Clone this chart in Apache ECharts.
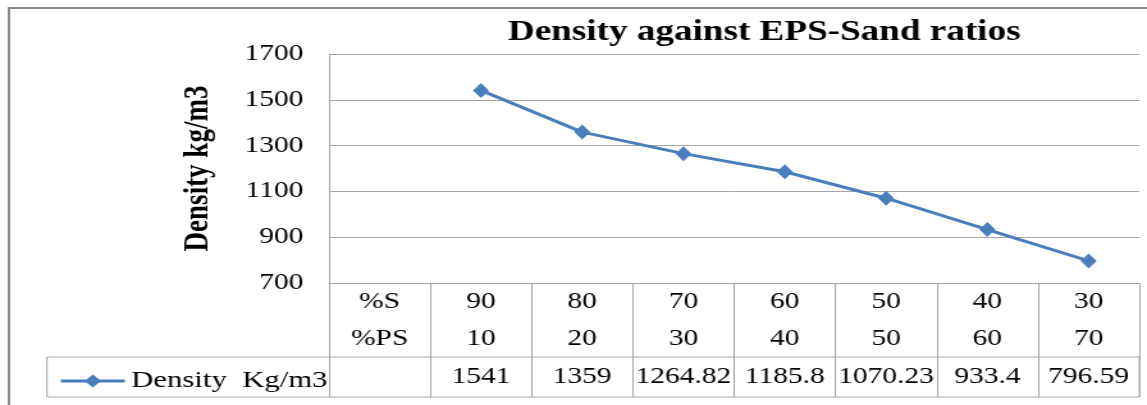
<!DOCTYPE html>
<html>
<head>
<meta charset="utf-8">
<script src="https://cdn.jsdelivr.net/npm/echarts@6/dist/echarts.min.js"></script>
<style>
  html, body { margin: 0; padding: 0; background: #fff; overflow: hidden; }
  /* the reference picture is stretched sideways, so draw narrower and widen it */
  #chart { width: 896px; height: 405px; transform: scaleX(1.2801); transform-origin: 0 0; }
</style>
</head>
<body>
<div id="chart"></div>
<script>
// data
const sandPct = ['90', '80', '70', '60', '50', '40', '30'];
const epsPct = ['10', '20', '30', '40', '50', '60', '70'];
const density = [1541, 1359, 1264.82, 1185.8, 1070.23, 933.4, 796.59];
const yTicks = [700, 900, 1100, 1300, 1500, 1700];

const font = "'Liberation Serif', 'Times New Roman', serif";
const gridColor = '#a6a6a6';

// first column of the data table holds the row headers
const categories = ['%S\n%PS'].concat(sandPct.map((s, i) => s + '\n' + epsPct[i]));
const seriesData = ['-'].concat(density);

const chart = echarts.init(document.getElementById('chart'));

const options = {
  backgroundColor: '#fff',
  animation: false,
  textStyle: { fontFamily: font, color: '#000' },
  title: {
    text: 'Density against EPS-Sand ratios',
    left: 592,
    top: 13,
    textAlign: 'center',
    textStyle: { fontFamily: font, fontWeight: 'bold', fontSize: 29, color: '#000' },
  },
  legend: {
    left: 41,
    top: 364,
    itemWidth: 50,
    itemHeight: 16,
    itemGap: 4,
    lineStyle: { width: 3 },
    textStyle: { fontFamily: font, fontSize: 24, color: '#000' },
    data: ['Density  Kg/m3'],
  },
  grid: { left: 257, right: 6, top: 54, bottom: 122 },
  xAxis: [
    {
      type: 'category',
      data: categories,
      boundaryGap: true,
      axisLine: { lineStyle: { color: gridColor, width: 1 } },
      axisTick: { show: true, length: 114, lineStyle: { color: gridColor, width: 1 } },
      axisLabel: {
        interval: 0,
        margin: 0,
        lineHeight: 37,
        fontFamily: font,
        fontSize: 23,
        color: '#000',
      },
      splitLine: { show: false },
    },
    {
      // values row of the data table
      type: 'category',
      data: categories,
      position: 'bottom',
      offset: 74,
      axisLine: { show: false },
      axisTick: { show: false },
      axisLabel: {
        interval: 0,
        margin: 0,
        lineHeight: 40,
        fontFamily: font,
        fontSize: 23,
        color: '#000',
        formatter: (v, i) => (i === 0 ? '' : String(density[i - 1])),
      },
    },
  ],
  yAxis: {
    type: 'value',
    min: yTicks[0],
    max: yTicks[yTicks.length - 1],
    interval: 200,
    name: 'Density kg/m3',
    nameLocation: 'middle',
    nameRotate: 90,
    nameGap: 88,
    nameTextStyle: { fontFamily: font, fontWeight: 'bold', fontSize: 27, color: '#000' },
    axisLine: { show: true, lineStyle: { color: gridColor, width: 1 } },
    axisTick: { show: false },
    axisLabel: {
      margin: 20,
      fontFamily: font,
      fontSize: 23,
      color: '#000',
      formatter: (v) => String(v),
    },
    splitLine: { lineStyle: { color: gridColor, width: 1 } },
  },
  series: [
    {
      name: 'Density  Kg/m3',
      type: 'line',
      data: seriesData,
      symbol: 'diamond',
      symbolSize: [12.5, 15],
      itemStyle: { color: '#4a7ebb' },
      lineStyle: { color: '#4a7ebb', width: 3 },
    },
  ],
  graphic: [
    {
      // outer chart frame
      type: 'rect',
      shape: { x: 7, y: 8, width: 1000, height: 500 },
      style: { fill: 'none', stroke: '#888', lineWidth: 2 },
      silent: true,
    },
    {
      // legend row of the data table
      type: 'rect',
      shape: { x: 36.7, y: 357, width: 853.3, height: 40 },
      style: { fill: 'none', stroke: gridColor, lineWidth: 1 },
      silent: true,
    },
  ],
};

chart.setOption(options);
</script>
</body>
</html>
